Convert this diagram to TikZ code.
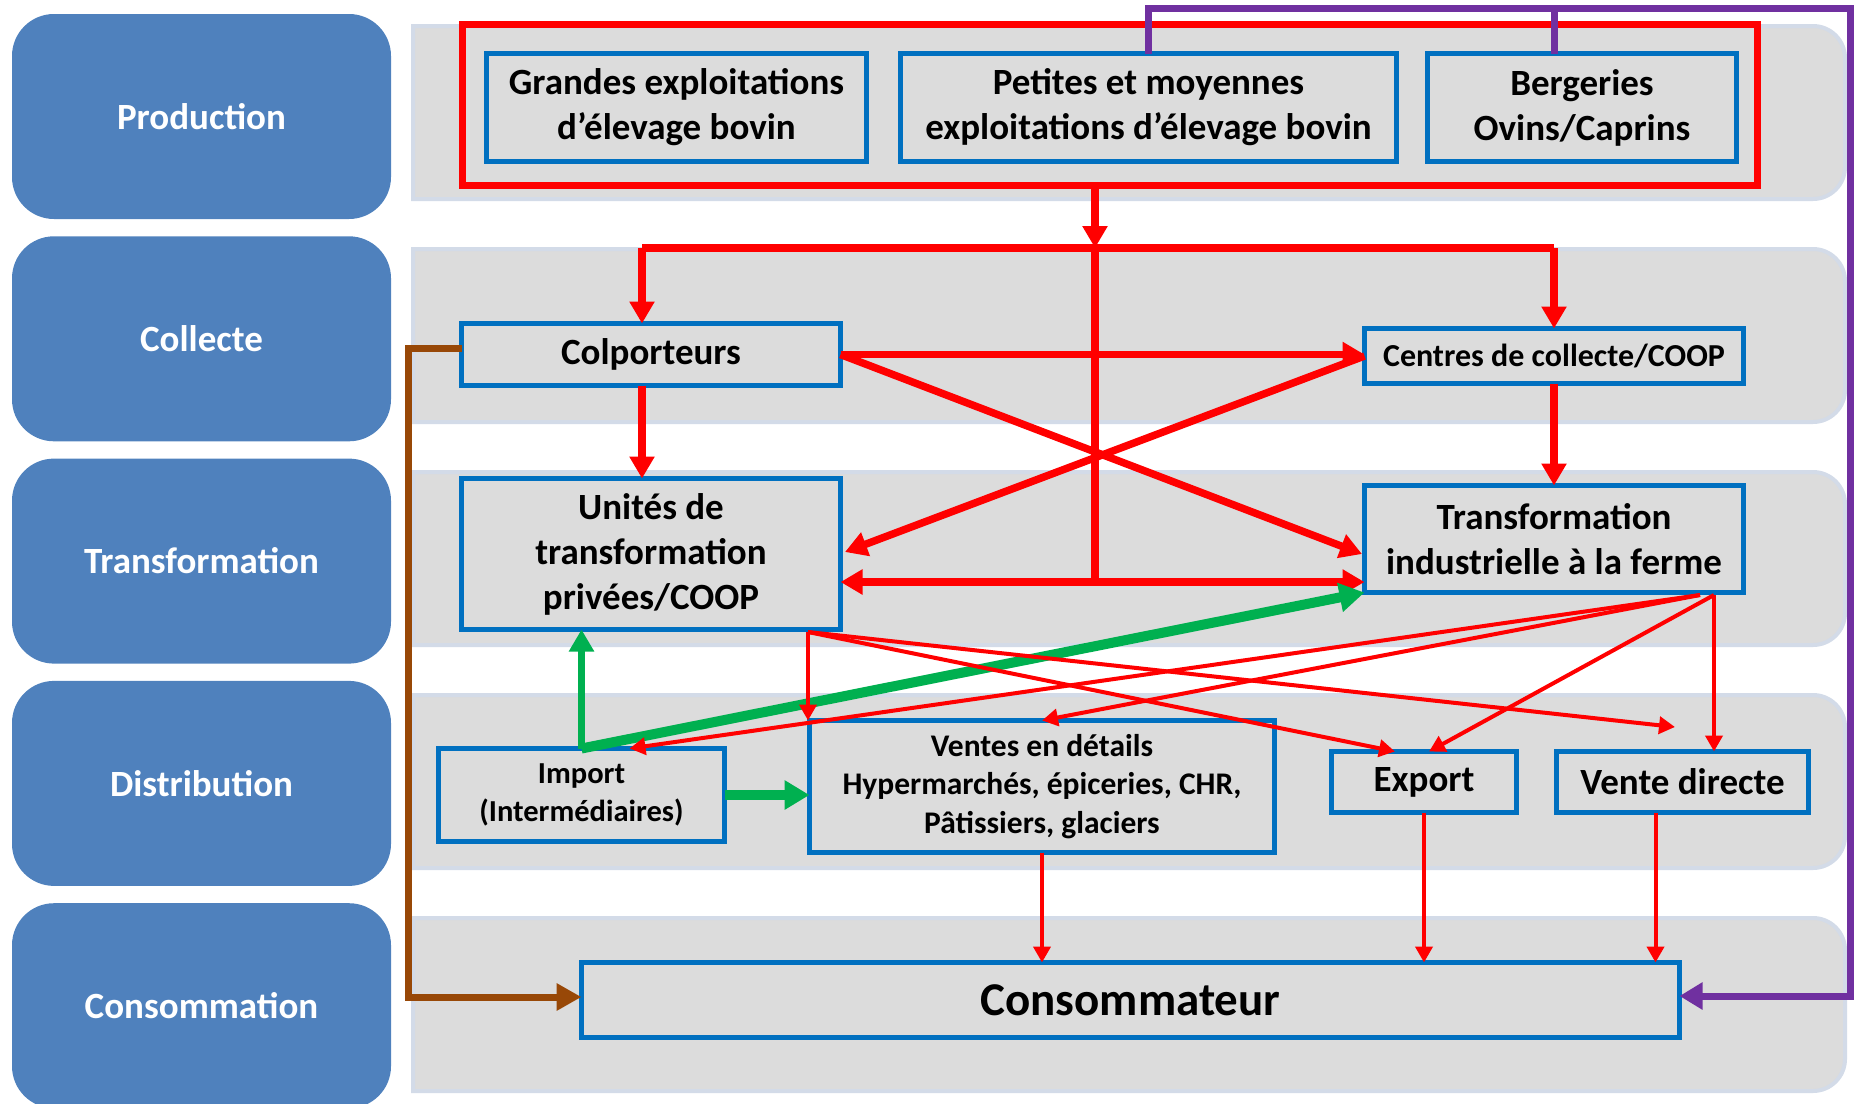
\documentclass[tikz,border=0pt]{standalone}
\usepackage{fontspec}
\setmainfont{Carlito}
\usetikzlibrary{arrows.meta}
\definecolor{lblue}{HTML}{4F81BD}
\definecolor{bandgrey}{HTML}{DCDCDC}
\definecolor{bandedge}{HTML}{D3DBE8}
\definecolor{boxblue}{HTML}{0070C0}
\definecolor{ared}{HTML}{FF0000}
\definecolor{agreen}{HTML}{00B050}
\definecolor{apurple}{HTML}{7030A0}
\definecolor{abrown}{HTML}{984807}
\begin{document}
\begin{tikzpicture}[x=1pt,y=-1pt,
  lane/.style={fill=lblue, rounded corners=42pt, minimum width=379pt, minimum height=205pt,
    inner sep=0pt, text=white, font=\fontsize{37}{45}\selectfont\bfseries},
  band/.style={fill=bandgrey, draw=bandedge, line width=4pt},
  bbox/.style={draw=boxblue, fill=bandgrey, line width=5.5pt, inner sep=0pt, outer sep=0pt,
    align=center, font=\fontsize{37}{45}\selectfont\bfseries},
  mbox/.style={bbox, font=\fontsize{31.5}{38.5}\selectfont\bfseries},
  redframe/.style={draw=ared, line width=7.5pt, inner sep=0pt, outer sep=0pt},
  redbig/.style={draw=ared, line width=7.5pt, -{Triangle[length=22pt,width=24pt]}},
  redline/.style={draw=ared, line width=7.5pt},
  redboth/.style={draw=ared, line width=7.5pt, {Triangle[length=22pt,width=24pt]}-{Triangle[length=22pt,width=24pt]}},
  redthin/.style={draw=ared, line width=4pt, -{Triangle[length=16pt,width=17pt]}},
  greenbig/.style={draw=agreen, line width=10pt, -{Triangle[length=25pt,width=28pt]}},
  greenmid/.style={draw=agreen, line width=7pt, -{Triangle[length=22pt,width=24pt]}},
  purpleline/.style={draw=apurple, line width=7pt},
  purplearrow/.style={draw=apurple, line width=7pt, -{Triangle[length=23pt,width=26pt]}},
  brownarrow/.style={draw=abrown, line width=7pt, -{Triangle[length=25pt,width=26pt]}}
]
\useasboundingbox (0,0) rectangle (1860,1103);

% lane labels
\node[lane] (lprod) at (201.5,116.5) {Production};
\node[lane] (lcoll) at (201.5,338.8) {Collecte};
\node[lane] (ltran) at (201.5,561.1) {Transformation};
\node[lane] (ldist) at (201.5,783.4) {Distribution};
\node[lane] (lcons) at (201.5,1005.7) {Consommation};

% grey bands
\foreach \yy in {26,249,472,695,918}{
  \draw[band] (1000,\yy) [rounded corners=32pt] -- (1845,\yy) -- (1845,\yy+173) -- (1000,\yy+173)
    [sharp corners] -- (413,\yy+173) -- (413,\yy) -- cycle;
}

% production
\node[redframe, minimum width=1295pt, minimum height=161pt] (prod) at (1110,105) {};
\node[bbox, minimum width=380pt, minimum height=108pt] (gr) at (676.5,107.5) {Grandes exploitations\\d’élevage bovin};
\node[bbox, minimum width=496pt, minimum height=108pt] (pe) at (1148.5,107.5) {Petites et moyennes\\exploitations d’élevage bovin};
\node[bbox, minimum width=309pt, minimum height=108pt] (be) at (1582,107.5) {Bergeries\\Ovins/Caprins};

% collecte
\node[bbox, minimum width=379pt, minimum height=62pt] (colp) at (651,354.5) {Colporteurs};
\node[bbox, minimum width=379pt, minimum height=55pt, font=\fontsize{32}{38}\selectfont\bfseries] (cent) at (1554,356) {Centres de collecte/COOP};

% transformation
\node[bbox, minimum width=379pt, minimum height=151pt] (unit) at (651,554) {Unités de\\transformation\\privées/COOP};
\node[bbox, minimum width=379pt, minimum height=107pt] (tran) at (1554,539) {Transformation\\industrielle à la ferme};

% distribution
\node[mbox, minimum width=286pt, minimum height=93pt, font=\fontsize{30.5}{38}\selectfont\bfseries] (imp) at (581.5,795) {Import\\(Intermédiaires)};
\node[mbox, minimum width=465pt, minimum height=132pt] (vent) at (1042,786.5) {Ventes en détails\\Hypermarchés, épiceries, CHR,\\Pâtissiers, glaciers};
\node[bbox, minimum width=185pt, minimum height=61pt] (exp) at (1424,782) {Export};
\node[bbox, minimum width=252pt, minimum height=61pt] (vd) at (1682.5,782) {Vente directe};

% consommation
\node[bbox, minimum width=1098pt, minimum height=75pt, font=\fontsize{47}{56}\selectfont\bfseries] (cons) at (1130.5,1000) {Consommateur};

% junction coordinates
\coordinate (j1) at (1095,248);
\coordinate (jl) at (642,248);
\coordinate (jr) at (1554,248);
\coordinate (j2) at (1095,582);
\coordinate (u1) at (808,632);
\coordinate (t1) at (1714,595);
\coordinate (t2) at (1700,595);
\coordinate (free) at (1675,727);
\coordinate (p0) at (1148.5,8);
\coordinate (p1) at (1850,8);
\coordinate (p2) at (1850,996);
\coordinate (pb) at (1554,8);
\coordinate (b1) at (408,348);
\coordinate (b2) at (408,997);

% thick red flows
\draw[redbig] (j1 |- prod.south) -- (j1);
\draw[redline] (jl) -- (jr);
\draw[redbig] (jl) -- (jl |- colp.north);
\draw[redbig] (jr) -- (cent.north);
\draw[redline] (j1) -- (j2);
\draw[redboth] (unit.east |- j2) -- (tran.west |- j2);
\draw[redbig] (colp.east) -- (colp.east -| cent.west);
\draw[redbig] (colp.east) -- (1362,554);
\draw[redbig] (cent.west) -- (845,552);
\draw[redbig] (jl |- colp.south) -- (jl |- unit.north);
\draw[redbig] (cent.south) -- (tran.north);

% green flows
\draw[greenmid] (imp.north) -- (imp.north |- unit.south);
\draw[greenbig] (imp.north) -- (tran.south west);
\draw[greenbig] (imp.east) -- (imp.east -| vent.west);

% thin red flows
\draw[redthin] (u1) -- (u1 |- vent.north);
\draw[redthin] (u1) -- ([xshift=-29pt]exp.north);
\draw[redthin] (u1) -- (free);
\draw[redthin] (t1) -- (t1 |- vd.north);
\draw[redthin] (t1) -- ([xshift=5pt]exp.north);
\draw[redthin] (t2) -- (vent.north);
\draw[redthin] (t2) -- ([xshift=48pt]imp.north);
\draw[redthin] (vent.south) -- (vent.south |- cons.north);
\draw[redthin] (exp.south) -- (exp.south |- cons.north);
\draw[redthin] ([xshift=-27pt]vd.south) -- ([xshift=-27pt]vd.south |- cons.north);

% purple
\draw[purplearrow] (pe.north) -- (p0) -- (p1) -- (p2) -- (cons.east |- p2);
\draw[purpleline] (pb |- be.north) -- (pb);

% brown
\draw[brownarrow] (colp.west |- b1) -- (b1) -- (b2) -- (cons.west |- b2);
\end{tikzpicture}
\end{document}
